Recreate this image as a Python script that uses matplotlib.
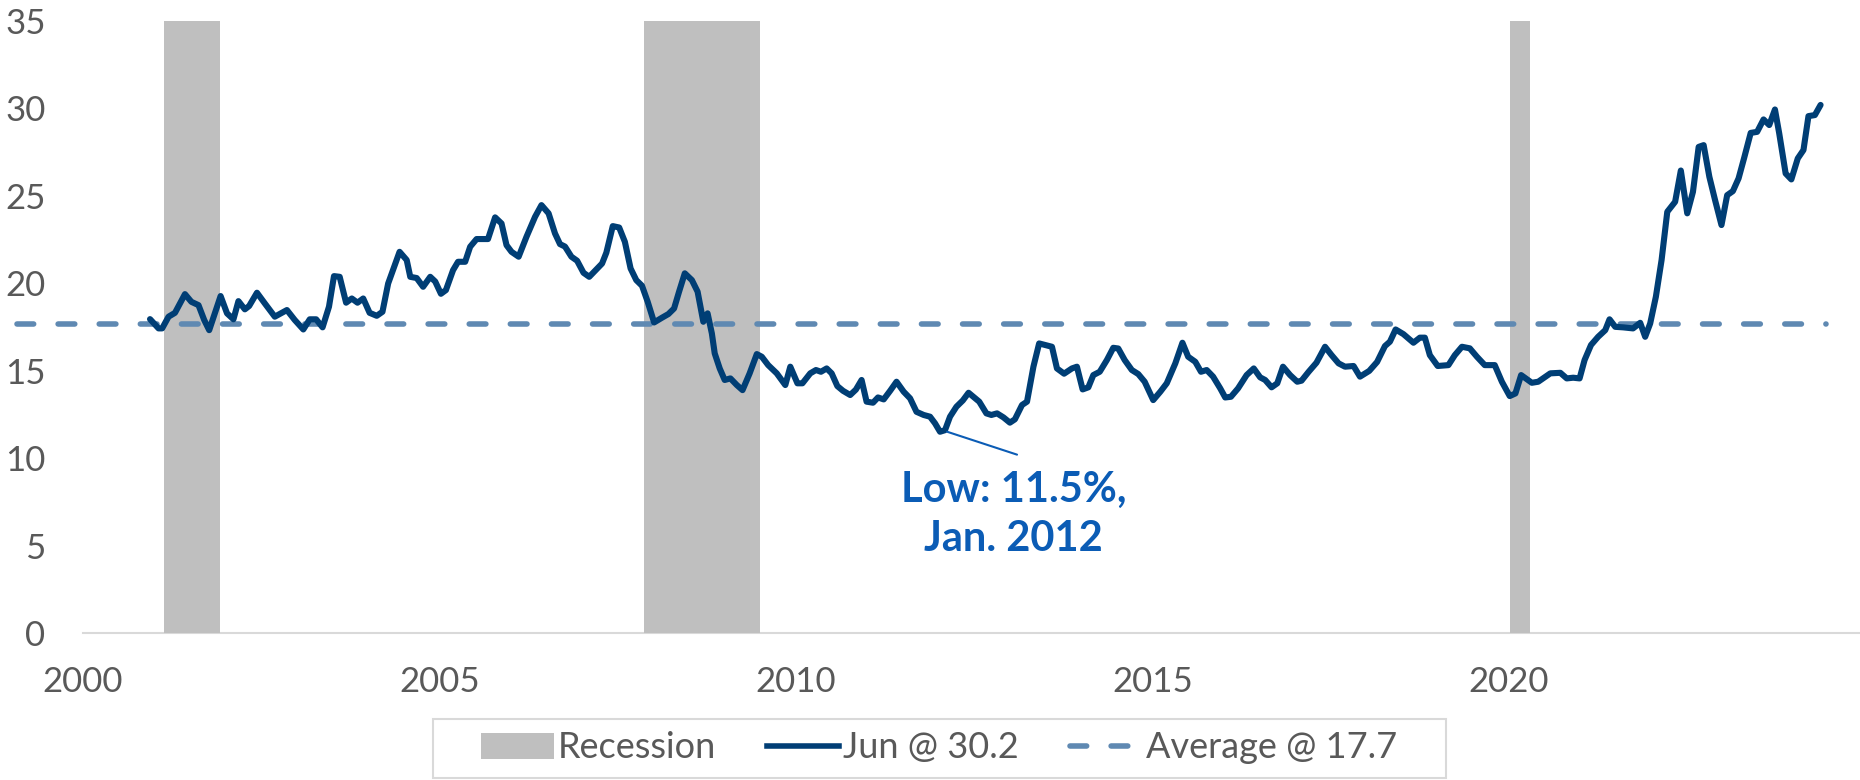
import matplotlib
matplotlib.use("Agg")
import matplotlib.pyplot as plt
from matplotlib.patches import Rectangle, Patch
from matplotlib.lines import Line2D
import numpy as np

# --- DATA ---
rec_start = [2001.14, 2007.87, 2020.01]
rec_end = [2001.92, 2009.50, 2020.30]

# decimal year of each visible vertex, and its value
t = [2000.94, 2001.06, 2001.11, 2001.20, 2001.29, 2001.43, 2001.52, 2001.62, 2001.70, 2001.77,
     2001.93, 2002.02, 2002.11, 2002.18, 2002.27, 2002.33, 2002.44, 2002.55, 2002.69, 2002.86,
     2002.97, 2003.09, 2003.18, 2003.27, 2003.36, 2003.45, 2003.52, 2003.60, 2003.69, 2003.77,
     2003.85, 2003.93, 2004.02, 2004.12, 2004.20, 2004.28, 2004.44, 2004.54, 2004.59, 2004.68,
     2004.77, 2004.87, 2004.94, 2005.02, 2005.09, 2005.19, 2005.26, 2005.36, 2005.43, 2005.52,
     2005.68, 2005.78, 2005.87, 2005.94, 2006.01, 2006.11, 2006.22, 2006.34, 2006.43, 2006.53,
     2006.62, 2006.69, 2006.76, 2006.85, 2006.93, 2007.02, 2007.10, 2007.20, 2007.28, 2007.34,
     2007.43, 2007.52, 2007.60, 2007.68, 2007.76, 2007.84, 2007.92, 2008.01, 2008.12, 2008.21,
     2008.29, 2008.36, 2008.44, 2008.54, 2008.62, 2008.70, 2008.76, 2008.82, 2008.86, 2008.93,
     2009.00, 2009.08, 2009.17, 2009.25, 2009.35, 2009.45, 2009.52, 2009.61, 2009.73, 2009.85,
     2009.92, 2010.02, 2010.09, 2010.20, 2010.28, 2010.35, 2010.43, 2010.50, 2010.58, 2010.66,
     2010.76, 2010.84, 2010.92, 2010.99, 2011.08, 2011.15, 2011.23, 2011.32, 2011.41, 2011.51,
     2011.60, 2011.69, 2011.79, 2011.88, 2011.95, 2012.02, 2012.09, 2012.16, 2012.25, 2012.34,
     2012.42, 2012.49, 2012.57, 2012.67, 2012.74, 2012.82, 2012.91, 2013.00, 2013.07, 2013.17,
     2013.24, 2013.33, 2013.41, 2013.59, 2013.66, 2013.76, 2013.87, 2013.94, 2014.02, 2014.10,
     2014.17, 2014.26, 2014.36, 2014.45, 2014.52, 2014.61, 2014.71, 2014.80, 2014.89, 2015.01,
     2015.11, 2015.20, 2015.32, 2015.42, 2015.50, 2015.60, 2015.68, 2015.76, 2015.85, 2015.95,
     2016.02, 2016.10, 2016.20, 2016.32, 2016.42, 2016.51, 2016.58, 2016.67, 2016.75, 2016.83,
     2016.93, 2017.03, 2017.09, 2017.19, 2017.30, 2017.42, 2017.51, 2017.61, 2017.70, 2017.82,
     2017.91, 2018.04, 2018.15, 2018.26, 2018.33, 2018.41, 2018.52, 2018.66, 2018.75, 2018.82,
     2018.89, 2019.00, 2019.15, 2019.24, 2019.34, 2019.45, 2019.55, 2019.66, 2019.80, 2019.90,
     2020.01, 2020.09, 2020.17, 2020.32, 2020.41, 2020.58, 2020.72, 2020.81, 2020.90, 2020.99,
     2021.06, 2021.15, 2021.25, 2021.35, 2021.41, 2021.49, 2021.60, 2021.74, 2021.84, 2021.91,
     2021.98, 2022.06, 2022.14, 2022.22, 2022.33, 2022.41, 2022.50, 2022.58, 2022.66, 2022.73,
     2022.81, 2022.89, 2022.98, 2023.06, 2023.14, 2023.22, 2023.30, 2023.39, 2023.48, 2023.57,
     2023.65, 2023.73, 2023.79, 2023.88, 2023.96, 2024.05, 2024.13, 2024.20, 2024.29, 2024.37]
v = [17.95, 17.42, 17.42, 18.09, 18.31, 19.38, 18.94, 18.75, 17.90, 17.32,
     19.27, 18.28, 17.94, 18.98, 18.51, 18.70, 19.46, 18.85, 18.09, 18.47,
     17.90, 17.36, 17.94, 17.94, 17.48, 18.66, 20.41, 20.37, 18.89, 19.13,
     18.89, 19.13, 18.31, 18.14, 18.37, 19.99, 21.80, 21.33, 20.37, 20.30,
     19.80, 20.37, 20.10, 19.40, 19.61, 20.75, 21.23, 21.23, 22.09, 22.53,
     22.53, 23.77, 23.42, 22.18, 21.80, 21.52, 22.66, 23.80, 24.47, 24.00,
     22.85, 22.24, 22.10, 21.52, 21.29, 20.60, 20.37, 20.79, 21.13, 21.75,
     23.27, 23.19, 22.37, 20.85, 20.18, 19.86, 18.94, 17.76, 18.03, 18.24,
     18.56, 19.52, 20.57, 20.18, 19.52, 17.80, 18.28, 17.13, 15.99, 15.13,
     14.47, 14.56, 14.18, 13.89, 14.85, 15.95, 15.80, 15.32, 14.85, 14.18,
     15.23, 14.28, 14.28, 14.85, 15.04, 14.94, 15.13, 14.85, 14.12, 13.85,
     13.61, 13.92, 14.47, 13.23, 13.17, 13.47, 13.36, 13.85, 14.37, 13.80,
     13.42, 12.65, 12.47, 12.37, 11.99, 11.51, 11.60, 12.37, 12.94, 13.30,
     13.74, 13.50, 13.23, 12.56, 12.47, 12.56, 12.33, 12.03, 12.22, 13.04,
     13.23, 15.23, 16.56, 16.37, 15.13, 14.83, 15.13, 15.23, 13.93, 14.05,
     14.75, 14.94, 15.61, 16.31, 16.27, 15.61, 15.04, 14.81, 14.37, 13.32,
     13.80, 14.28, 15.42, 16.60, 15.80, 15.51, 14.94, 15.04, 14.66, 13.99,
     13.47, 13.51, 13.99, 14.75, 15.13, 14.62, 14.47, 14.05, 14.28, 15.23,
     14.75, 14.37, 14.43, 14.94, 15.46, 16.37, 15.90, 15.42, 15.23, 15.27,
     14.66, 14.99, 15.50, 16.41, 16.66, 17.36, 17.09, 16.60, 16.89, 16.89,
     15.89, 15.27, 15.32, 15.89, 16.37, 16.28, 15.80, 15.32, 15.32, 14.37,
     13.55, 13.70, 14.75, 14.31, 14.37, 14.85, 14.88, 14.56, 14.60, 14.56,
     15.61, 16.47, 16.94, 17.32, 17.94, 17.51, 17.48, 17.42, 17.74, 16.94,
     17.70, 19.23, 21.33, 24.09, 24.66, 26.45, 24.00, 25.23, 27.80, 27.90,
     26.09, 24.76, 23.33, 25.04, 25.27, 26.00, 27.20, 28.60, 28.66, 29.37,
     29.05, 29.94, 28.57, 26.28, 25.94, 27.14, 27.62, 29.56, 29.62, 30.20]

avg = 17.7
legend_labels = ["Recession", "Jun @ 30.2", "Average @ 17.7"]
low_text = "Low: 11.5%,\nJan. 2012"
y_ticks = [0, 5, 10, 15, 20, 25, 30, 35]
x_ticks = [2000, 2005, 2010, 2015, 2020]

# --- STYLE ---
plt.rcParams['font.family'] = ['Lato', 'DejaVu Sans']
line_col = '#003e75'
avg_col = '#5f89b2'
band_col = '#bfbfbf'
note_col = '#0b5cb5'
text_col = '#595959'
dash = (0, (3.0, 4.4))

W, H = 1860, 780
fig = plt.figure(figsize=(W / 100, H / 100), dpi=100)
ax = fig.add_axes([83 / W, 1 - 633 / H, (W - 83) / W, (633 - 21) / H])

for s, e in zip(rec_start, rec_end):
    ax.axvspan(s, e, color=band_col, lw=0, zorder=1)

ax.axhline(avg, xmin=-0.037, xmax=0.981, color=avg_col, lw=4.0, ls=dash,
           dash_capstyle='round', clip_on=False, zorder=2)
ax.plot(t, v, color=line_col, lw=4.4, solid_joinstyle='round',
        solid_capstyle='round', zorder=3)

# low point call-out
i_low = int(np.argmin(v))
ax.annotate('', xy=(t[i_low] + 0.1, v[i_low]), xytext=(2013.1, 10.2),
            arrowprops=dict(arrowstyle='-', color=note_col, lw=1.5,
                            shrinkA=0, shrinkB=0), zorder=4)
ax.text(2013.05, 6.8, low_text, ha='center', va='center', fontsize=30,
        fontweight='bold', color=note_col, linespacing=1.36)

ax.set_xlim(2000, 2000 + (W - 83) / 71.3)
ax.set_ylim(0, 35)
ax.set_xticks(x_ticks)
ax.set_yticks(y_ticks)
ax.tick_params(axis='both', length=0, labelsize=25, labelcolor=text_col)
ax.tick_params(axis='y', pad=27)
ax.tick_params(axis='x', pad=24)
for side in ['top', 'right', 'left']:
    ax.spines[side].set_visible(False)
ax.spines['bottom'].set_color('#d9d9d9')
ax.spines['bottom'].set_linewidth(1.5)
ax.spines['bottom'].set_zorder(0.5)

# legend with its own frame
fig.patches.append(Rectangle((433 / W, 1 - 778 / H), 1013 / W, 59 / H,
                             transform=fig.transFigure, fill=False,
                             edgecolor='#d9d9d9', lw=1.5))
handles = [Patch(facecolor=band_col, edgecolor='none'),
           Line2D([], [], color=line_col, lw=4.0),
           Line2D([], [], color=avg_col, lw=4.0, ls=dash, dash_capstyle='round')]
fig.legend(handles, legend_labels, loc='center', bbox_to_anchor=(0.505, 1 - 748 / H),
           ncol=3, frameon=False, fontsize=26, handlelength=2.0, handleheight=0.7,
           handletextpad=0.12, columnspacing=1.4, labelcolor=text_col)

fig.savefig('out.png', dpi=100)
